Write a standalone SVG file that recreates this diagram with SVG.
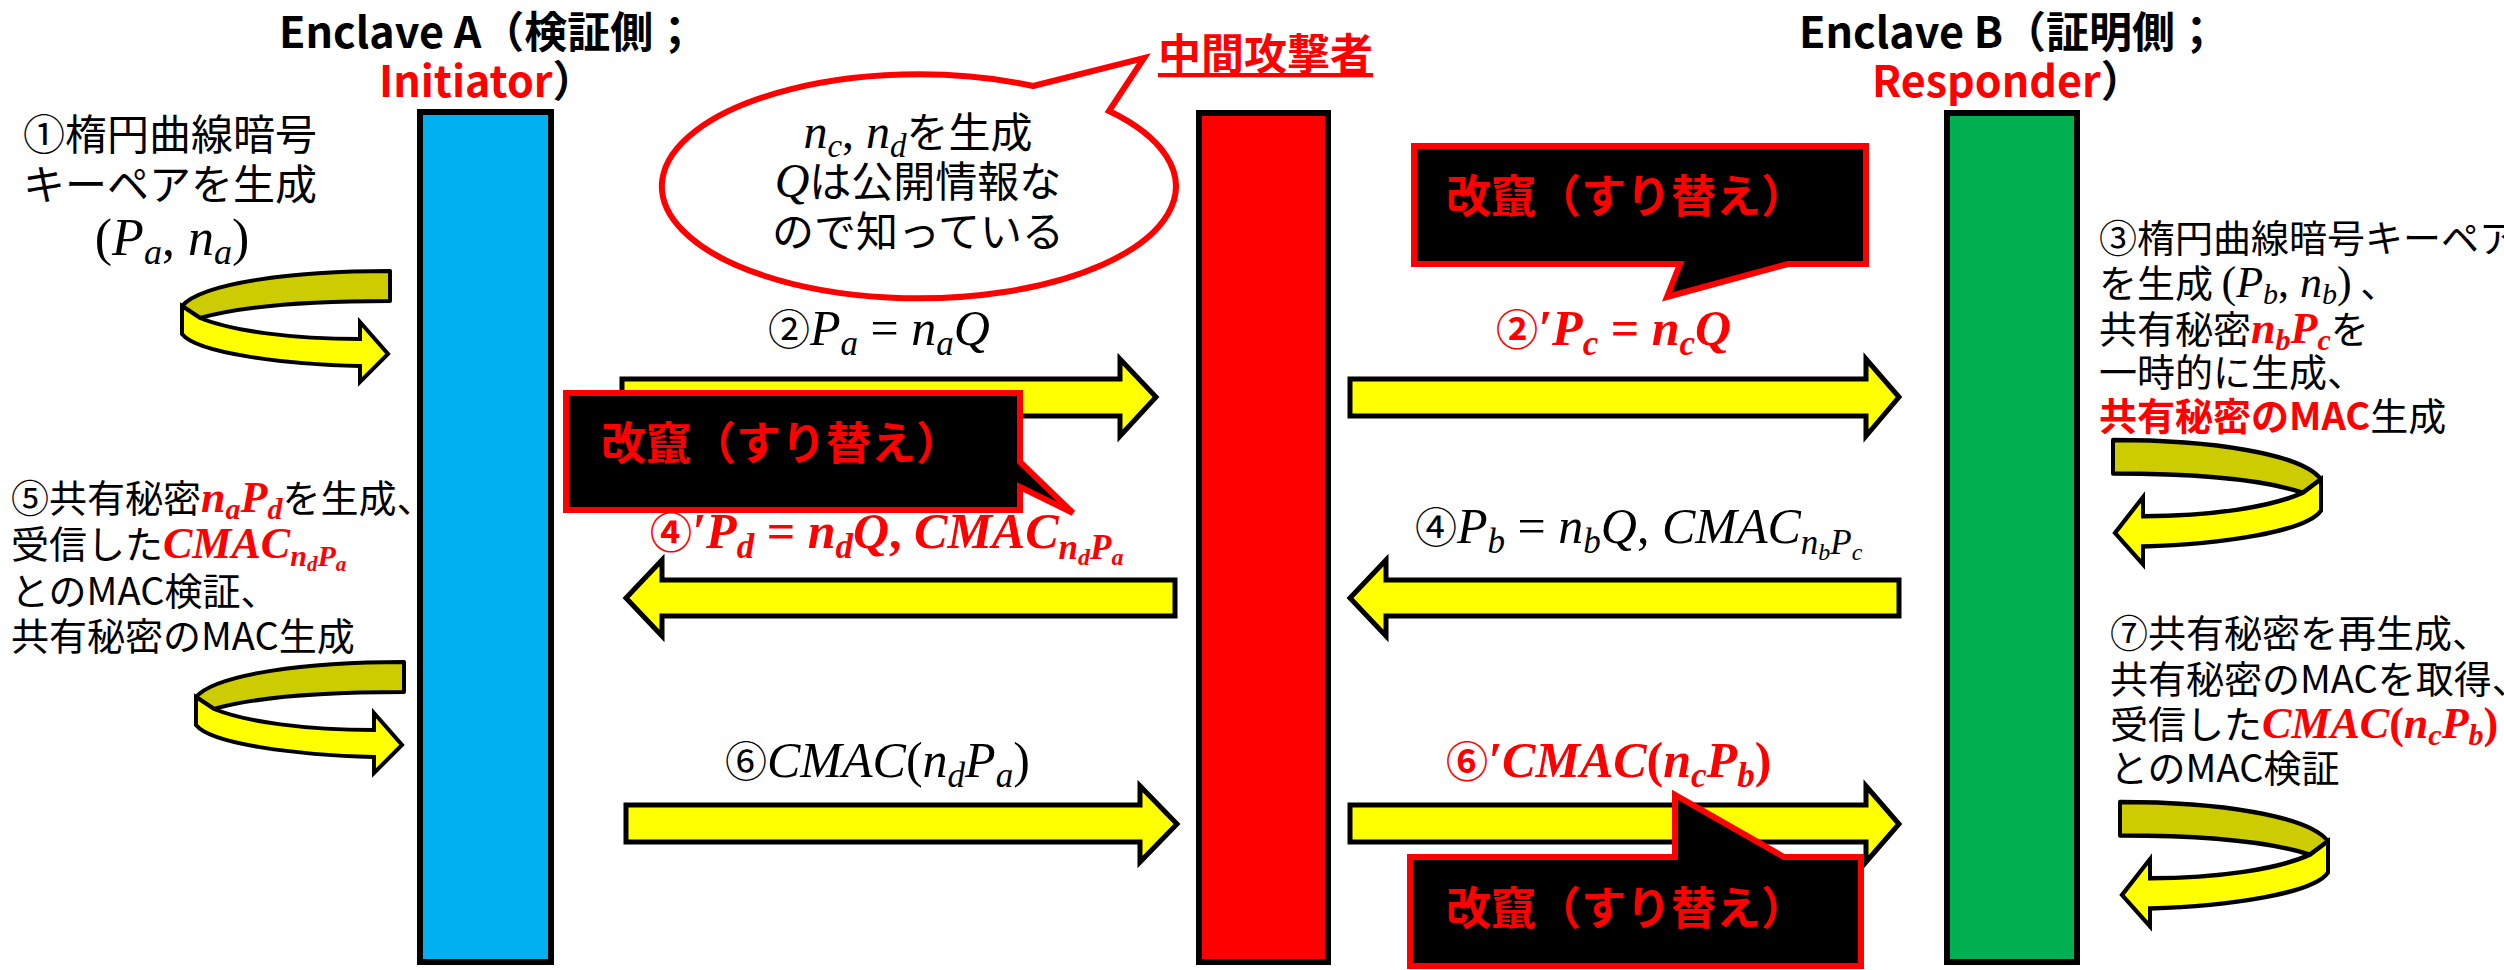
<svg xmlns="http://www.w3.org/2000/svg" width="2504" height="970" viewBox="0 0 2504 970">
<defs>
<style>
.jp{font-family:"Noto Sans CJK JP","Liberation Sans",sans-serif;fill:#000}
.s38{font-size:38px}
.s42{font-size:42px}
.cj{font-family:"Noto Sans CJK JP","Liberation Sans",sans-serif;font-style:normal}
.t{font-family:"Noto Sans CJK JP","Liberation Sans",sans-serif;font-size:43px;font-weight:bold;fill:#000}
.m{font-family:"Liberation Serif","DejaVu Serif",serif;font-style:italic}
.u{font-style:normal}
.r{fill:#FF0000}
.b{font-weight:bold}
.bar{stroke:#000;stroke-width:6}
.harrow{fill:#FFFF00;stroke:#000;stroke-width:5}
.dark{fill:#CCCC00;stroke:#000;stroke-width:4;stroke-linejoin:round}
.yel{fill:#FFFF00;stroke:#000;stroke-width:4;stroke-linejoin:miter}
.co{fill:#000;stroke:#FF0000;stroke-width:6}
.cot{font-family:"Noto Sans CJK JP","Liberation Sans",sans-serif;font-size:45px;font-weight:bold;fill:#FF0000}
.bub{fill:#FFFFFF;stroke:#FF0000;stroke-width:6}
</style>
<g id="uturn">
<path class="dark" d="M208,0 C110,0 20,12 0,35 L18,47 C60,35 130,30 208,30 Z"/>
<path class="yel" d="M0,35 L18,47 C50,60 110,68 178,68 L178,51 L206,83 L178,111 L178,95 C100,93 15,82 0,63 Z"/>
</g>
</defs>
<rect width="2504" height="970" fill="#FFFFFF"/>

<g id="enclaveA">
<rect class="bar" x="420" y="112" width="131" height="850" fill="#00B0F0"/>
<text class="t" x="279" y="48">Enclave A（検証側；</text>
<text class="t" x="379" y="97"><tspan class="r">Initiator</tspan>）</text>
</g>

<g id="attacker">
<rect class="bar" x="1199" y="113" width="129" height="849" fill="#FF0000"/>
<text class="t r" x="1158" y="70" style="text-decoration:underline">中間攻撃者</text>
</g>

<g id="enclaveB">
<rect class="bar" x="1947" y="113" width="130" height="849" fill="#00B050"/>
<text class="t" x="1799" y="48">Enclave B（証明側；</text>
<text class="t" x="1872" y="97"><tspan class="r">Responder</tspan>）</text>
</g>

<g id="bubble">
<path class="bub" d="M1033,86 L1144,58 L1109,111 A257,112 0 1,1 1033,86 Z"/>
<text class="jp s42" x="918" y="148" text-anchor="middle"><tspan class="m" font-size="48">n</tspan><tspan class="m" font-size="33" dy="9">c</tspan><tspan class="m u" font-size="48" dy="-9">, </tspan><tspan class="m" font-size="48">n</tspan><tspan class="m" font-size="33" dy="9">d</tspan><tspan dy="-9">を生成</tspan></text>
<text class="jp s42" x="918" y="197" text-anchor="middle"><tspan class="m" font-size="48">Q</tspan>は公開情報な</text>
<text class="jp s42" x="918" y="247" text-anchor="middle">ので知っている</text>
</g>

<g id="step1">
<text class="jp s42" x="170" y="150" text-anchor="middle">①楕円曲線暗号</text>
<text class="jp s42" x="170" y="200" text-anchor="middle">キーペアを生成</text>
<text class="m" x="172" y="255" font-size="52" text-anchor="middle"><tspan class="u">(</tspan>P<tspan font-size="36" dy="9">a</tspan><tspan class="u" dy="-9">, </tspan>n<tspan font-size="36" dy="9">a</tspan><tspan class="u" dy="-9">)</tspan></text>
</g>

<g id="step3">
<text class="jp s38" x="2099" y="252">③楕円曲線暗号キーペア</text>
<text class="jp s38" x="2099" y="297">を生成 <tspan class="m u" font-size="44">(</tspan><tspan class="m" font-size="44">P</tspan><tspan class="m" font-size="30" dy="7">b</tspan><tspan class="m u" font-size="44" dy="-7">, </tspan><tspan class="m" font-size="44">n</tspan><tspan class="m" font-size="30" dy="7">b</tspan><tspan class="m u" font-size="44" dy="-7">)</tspan> 、</text>
<text class="jp s38" x="2099" y="343">共有秘密<tspan class="m r b" font-size="44">n</tspan><tspan class="m r b" font-size="30" dy="7">b</tspan><tspan class="m r b" font-size="44" dy="-7">P</tspan><tspan class="m r b" font-size="30" dy="7">c</tspan><tspan dy="-7">を</tspan></text>
<text class="jp s38" x="2099" y="386">一時的に生成、</text>
<text class="jp s38" x="2099" y="430"><tspan class="r b">共有秘密のMAC</tspan>生成</text>
</g>

<g id="step5">
<text class="jp s38" x="11" y="512">⑤共有秘密<tspan class="m r b" font-size="44">n</tspan><tspan class="m r b" font-size="30" dy="7">a</tspan><tspan class="m r b" font-size="44" dy="-7">P</tspan><tspan class="m r b" font-size="30" dy="7">d</tspan><tspan dy="-7">を生成、</tspan></text>
<text class="jp s38" x="11" y="558">受信した<tspan class="m r b" font-size="44">CMAC</tspan><tspan class="m r b" font-size="30" dy="8">n</tspan><tspan class="m r b" font-size="21" dy="5">d</tspan><tspan class="m r b" font-size="30" dy="-5">P</tspan><tspan class="m r b" font-size="21" dy="5">a</tspan></text>
<text class="jp s38" x="11" y="605">とのMAC検証、</text>
<text class="jp s38" x="11" y="650">共有秘密のMAC生成</text>
</g>

<g id="step7">
<text class="jp s38" x="2110" y="647">⑦共有秘密を再生成、</text>
<text class="jp s38" x="2110" y="693">共有秘密のMACを取得、</text>
<text class="jp s38" x="2110" y="738">受信した<tspan class="m r b" font-size="44">CMAC</tspan><tspan class="m r b u" font-size="44">(</tspan><tspan class="m r b" font-size="44">n</tspan><tspan class="m r b" font-size="30" dy="7">c</tspan><tspan class="m r b" font-size="44" dy="-7">P</tspan><tspan class="m r b" font-size="30" dy="7">b</tspan><tspan class="m r b u" font-size="44" dy="-7">)</tspan></text>
<text class="jp s38" x="2110" y="782">とのMAC検証</text>
</g>

<g id="connectors">
<use href="#uturn" transform="translate(182,271)"/>
<use href="#uturn" transform="translate(196,662)"/>
<use href="#uturn" transform="translate(2321,440) scale(-1,1.12)"/>
<use href="#uturn" transform="translate(2328,802) scale(-1,1.12)"/>
<path class="harrow" d="M622,379 H1120 V359 L1156,397 L1120,436 V416 H622 Z"/>
<path class="harrow" d="M1350,379 H1866 V359 L1899,397 L1866,436 V416 H1350 Z"/>
<path class="harrow" d="M1175,580 H662 V560 L626,598 L662,636 V616 H1175 Z"/>
<path class="harrow" d="M1899,580 H1386 V560 L1350,598 L1386,636 V616 H1899 Z"/>
<path class="harrow" d="M626,805 H1140 V786 L1177,824 L1140,862 V842 H626 Z"/>
<path class="harrow" d="M1350,805 H1866 V786 L1899,824 L1866,862 V842 H1350 Z"/>
</g>

<g id="labels">
<text class="m" x="768" y="345" font-size="50"><tspan class="cj" font-size="42">②</tspan>P<tspan font-size="35" dy="10">a</tspan><tspan class="u" dy="-10"> = </tspan>n<tspan font-size="35" dy="10">a</tspan><tspan dy="-10">Q</tspan></text>
<text class="m r b" x="1496" y="345" font-size="50"><tspan class="cj" font-size="42">②</tspan>′P<tspan font-size="35" dy="10">c</tspan><tspan class="u" dy="-10"> = </tspan>n<tspan font-size="35" dy="10">c</tspan><tspan dy="-10">Q</tspan></text>
<text class="m r b" x="650" y="548" font-size="50"><tspan class="cj" font-size="42">④</tspan>′P<tspan font-size="35" dy="10">d</tspan><tspan class="u" dy="-10"> = </tspan>n<tspan font-size="35" dy="10">d</tspan><tspan dy="-10">Q</tspan><tspan class="u">, </tspan>CMAC<tspan font-size="35" dy="11">n</tspan><tspan font-size="24" dy="6">d</tspan><tspan font-size="35" dy="-6">P</tspan><tspan font-size="24" dy="6">a</tspan></text>
<text class="m" x="1415" y="543" font-size="50"><tspan class="cj" font-size="42">④</tspan>P<tspan font-size="35" dy="10">b</tspan><tspan class="u" dy="-10"> = </tspan>n<tspan font-size="35" dy="10">b</tspan><tspan dy="-10">Q</tspan><tspan class="u">, </tspan>CMAC<tspan font-size="35" dy="11">n</tspan><tspan font-size="24" dy="6">b</tspan><tspan font-size="35" dy="-6">P</tspan><tspan font-size="24" dy="6">c</tspan></text>
<text class="m" x="725" y="777" font-size="50"><tspan class="cj" font-size="42">⑥</tspan>CMAC<tspan class="u">(</tspan>n<tspan font-size="35" dy="10">d</tspan><tspan dy="-10">P</tspan><tspan font-size="35" dy="10">a</tspan><tspan class="u" dy="-10">)</tspan></text>
<text class="m r b" x="1446" y="777" font-size="50"><tspan class="cj" font-size="42">⑥</tspan>′CMAC<tspan class="u">(</tspan>n<tspan font-size="35" dy="10">c</tspan><tspan dy="-10">P</tspan><tspan font-size="35" dy="10">b</tspan><tspan class="u" dy="-10">)</tspan></text>
</g>

<g id="tamper1">
<path class="co" d="M1414,146 H1866 V264 H1788 L1667,297 L1680,264 H1414 Z"/>
<text class="cot" x="1446" y="213">改竄（すり替え）</text>
</g>
<g id="tamper2">
<path class="co" d="M566,393 H1020 V462 L1073,513 L1020,487 V510 H566 Z"/>
<text class="cot" x="601" y="460">改竄（すり替え）</text>
</g>
<g id="tamper3">
<path class="co" d="M1410,857 H1675 V795 L1784,857 H1861 V966 H1410 Z"/>
<text class="cot" x="1446" y="925">改竄（すり替え）</text>
</g>
</svg>
